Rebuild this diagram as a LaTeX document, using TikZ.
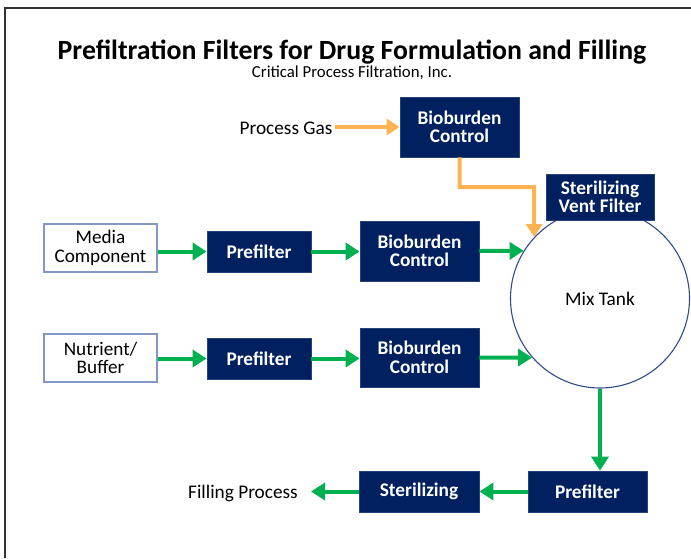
\documentclass[tikz,border=0pt]{standalone}
\usepackage{fontspec}
\setmainfont{Carlito}
\usetikzlibrary{arrows.meta}
\definecolor{navy}{HTML}{002060}
\definecolor{grn}{HTML}{00B050}
\definecolor{orng}{HTML}{FBB451}
\definecolor{wbord}{HTML}{8496C4}
\definecolor{tankbord}{HTML}{2F4B8C}
\begin{document}
\begin{tikzpicture}[x=1pt,y=-1pt,
  navybox/.style={draw=navy!85!white,line width=0.8pt,fill=navy,text=white,font=\fontsize{19.3}{18.5}\selectfont\bfseries,align=center,inner sep=0pt},
  whitebox/.style={draw=wbord,line width=1.3pt,fill=white,font=\fontsize{19.2}{18.5}\selectfont,align=center,inner sep=0pt},
  plain/.style={font=\fontsize{19.3}{20}\selectfont,inner sep=0pt},
  garrow/.style={draw=grn,line width=4pt,-{Triangle[length=14pt,width=17pt]}},
  oarrow/.style={draw=orng,line width=4pt,-{Triangle[length=13pt,width=16pt]}}]
\useasboundingbox (0,0) rectangle (691,558);
\fill[white] (0,0) rectangle (691,558);
\draw[line width=2pt,black!80] (5,558) -- (5,8) -- (691,8);

\node (title) at (352,52) {\fontsize{27.8}{28}\selectfont\bfseries Prefiltration Filters for Drug Formulation and Filling};
\node (sub) at (352,73) {\fontsize{16.8}{17}\selectfont Critical Process Filtration, Inc.};

\node[plain] (gas) at (286,128) {Process Gas};
\node[navybox,minimum width=119pt,minimum height=60pt] (bb0) at (459.5,127) {Bioburden\\Control};

\node[draw=tankbord,line width=1.1pt,circle,minimum size=179pt,inner sep=0pt,font=\fontsize{19.3}{20}\selectfont] (tank) at (600,298.5) {Mix Tank};
\node[navybox,minimum width=108pt,minimum height=46pt] (vent) at (600,197) {Sterilizing\\Vent Filter};

\node[whitebox,minimum width=113pt,minimum height=48pt] (media) at (100.5,248) {Media\\Component};
\node[navybox,minimum width=104pt,minimum height=41pt] (pf1) at (259,251.5) {Prefilter};
\node[navybox,minimum width=119pt,minimum height=60pt] (bb1) at (419.5,251) {Bioburden\\Control};

\node[whitebox,minimum width=113pt,minimum height=48pt] (nutr) at (100.5,358) {Nutrient/\\Buffer};
\node[navybox,minimum width=104pt,minimum height=41pt] (pf2) at (259,358.5) {Prefilter};
\node[navybox,minimum width=119pt,minimum height=59pt] (bb2) at (419.5,357.5) {Bioburden\\Control};

\node[navybox,minimum width=120pt,minimum height=41pt] (st) at (419,491.5) {Sterilizing};
\node[navybox,minimum width=119pt,minimum height=41pt] (pf3) at (587.5,491.5) {Prefilter};
\node[plain] (fill) at (243,493) {Filling Process};

\coordinate (gasend) at (335,127);
\coordinate (ob) at (534,187);
\draw[oarrow] (gasend) -- (bb0.west);
\draw[oarrow] (bb0.south) |- (ob) -- (tank.137.5);

\draw[garrow] (media.east |- pf1.west) -- (pf1.west);
\draw[garrow] (pf1.east) -- (pf1.east -| bb1.west);
\draw[garrow] (bb1.east) -- (tank.148);
\draw[garrow] (nutr.east |- pf2.west) -- (pf2.west);
\draw[garrow] (pf2.east) -- (pf2.east -| bb2.west);
\draw[garrow] (bb2.east) -- (tank.221);
\draw[garrow] (tank.south) -- (tank.south |- pf3.north);
\draw[garrow] (pf3.west) -- (st.east);
\coordinate (fillend) at (311,491.5);
\draw[garrow] (st.west) -- (fillend);
\end{tikzpicture}
\end{document}
